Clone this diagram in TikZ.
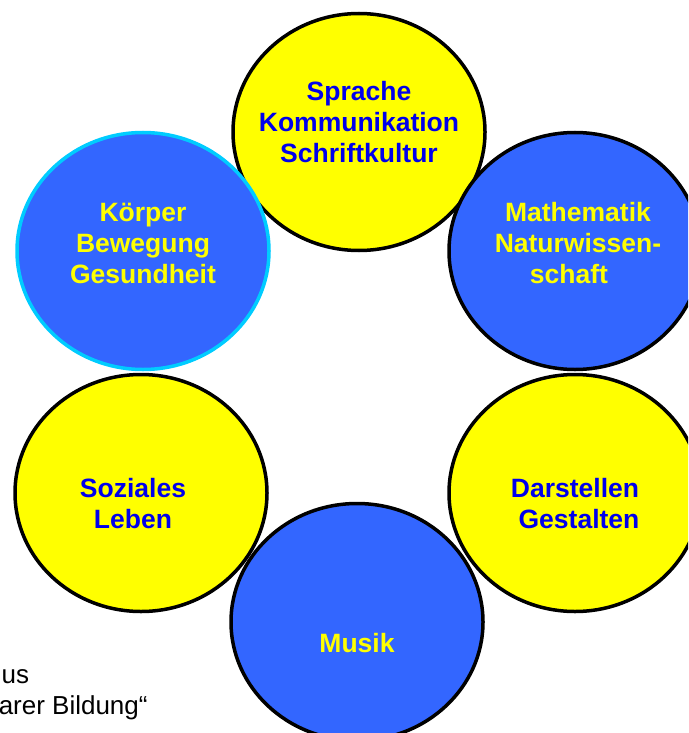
\documentclass[tikz,border=0pt]{standalone}
\usepackage{fontspec}
\setmainfont{Liberation Sans}
\usetikzlibrary{shapes.geometric,positioning}
\definecolor{gelb}{RGB}{255,255,0}
\definecolor{blau}{RGB}{51,102,255}
\definecolor{dunkelblau}{RGB}{0,0,235}
\definecolor{hellblau}{RGB}{0,204,255}

\begin{document}
\begin{tikzpicture}[x=1pt,y=-1pt,line width=3.5pt]
\tikzstyle{kreis}=[ellipse,draw=black,minimum width=252pt,minimum height=237pt,inner sep=0pt]
\tikzstyle{gk}=[kreis,fill=gelb]
\tikzstyle{bk}=[kreis,fill=blau]
\tikzstyle{txt}=[align=center,inner sep=0pt,font=\fontsize{26.5}{31}\selectfont\bfseries]
\tikzstyle{bt}=[txt,text=dunkelblau]
\tikzstyle{yt}=[txt,text=gelb]
\tikzstyle{quelle}=[anchor=base west,inner sep=0pt,font=\fontsize{26}{31}\selectfont]
\useasboundingbox (0,0) rectangle (688,733);
\clip (0,0) rectangle (688,733);
\node[gk] (spr) at (359,132) {};
\node[bt] (sprT) at ([yshift=10pt]spr.center) {Sprache\\Kommunikation\\Schriftkultur};
\node[gk] (soz) at (141,493) {};
\node[bt] (sozT) at ([xshift=-8pt,yshift=-11pt]soz.center) {Soziales\\Leben};
\node[gk] (dar) at (575,493) {};
\node[bt] (darT) at ([yshift=-11pt]dar.center) {Darstellen\\\hspace*{8pt}Gestalten};
\node[bk] (mat) at (575,251) {};
\node[yt] (matT) at ([xshift=3pt,yshift=8pt]mat.center) {Mathematik\\Naturwissen-\\schaft\hspace*{18pt}};
\node[bk] (mus) at (357,622) {};
\node[yt] (musT) at ([yshift=-21pt]mus.center) {Musik};
\node[bk, draw=hellblau] (koe) at (143,251) {};
\node[yt] (koeT) at ([yshift=8pt]koe.center) {Körper\\Bewegung\\Gesundheit};
\node[quelle] (q1) at (0,683) {us};
\node[quelle] (q2) at (-3,714) {arer Bildung“};
\end{tikzpicture}
\end{document}
